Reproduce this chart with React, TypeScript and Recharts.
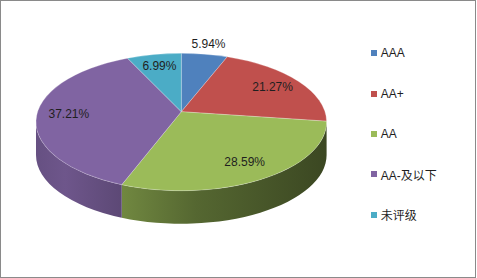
import React from 'react';
import { PieChart, Pie, Legend } from 'recharts';

const ratings = ['AAA', 'AA+', 'AA', 'AA-及以下', '未评级'];
const shares = [5.94, 21.27, 28.59, 37.21, 6.99];
const colors = ['#4F81BD', '#C0504D', '#9BBB59', '#8064A2', '#4BACC6'];

const data = ratings.map((name, i) => ({ name, value: shares[i] }));

const FONT = "'Liberation Sans', Arial, 'Noto Sans CJK SC', sans-serif";
const TILT = 0.473; // ry / rx of the top face
const DEPTH = 33; // height of the side wall
const PERSP = 0.15; // how far the centre point sits back (perspective)
const RAD = Math.PI / 180;

// point on the flat disc (angle, fraction of radius) -> screen, with a perspective pull
const project = (cx: number, cy: number, r: number, deg: number, f = 1) => {
    const u = f * Math.cos(deg * RAD);
    const v = f * Math.sin(deg * RAD);
    const k = 1 + PERSP * v;
    const u2 = (u * Math.sqrt(1 - PERSP * PERSP)) / k;
    const v2 = (v + PERSP) / k;
    return { x: cx + r * u2, y: cy - r * TILT * v2, a: Math.atan2(v2, u2) / RAD };
};

// angle on the ellipse, unwrapped next to the source angle
const screenAngle = (cx: number, cy: number, r: number, deg: number) => {
    let a = project(cx, cy, r, deg).a;
    while (a - deg > 180) a -= 360;
    while (deg - a > 180) a += 360;
    return a;
};

const onEllipse = (cx: number, cy: number, r: number, a: number) => ({
    x: cx + r * Math.cos(a * RAD),
    y: cy - r * TILT * Math.sin(a * RAD),
});

const shade = (hex: string, k: number) => {
    const n = parseInt(hex.slice(1), 16);
    const r = Math.round(((n >> 16) & 255) * k);
    const g = Math.round(((n >> 8) & 255) * k);
    const b = Math.round((n & 255) * k);
    return `rgb(${r},${g},${b})`;
};

const renderSide = (props: any) => {
    const { cx, cy, outerRadius: r, startAngle, endAngle, index } = props;
    const hi = Math.min(screenAngle(cx, cy, r, startAngle), 0);
    const lo = Math.max(screenAngle(cx, cy, r, endAngle), -180);
    if (hi <= lo) return <g key={`side-${index}`} />;
    const p1 = onEllipse(cx, cy, r, hi);
    const p2 = onEllipse(cx, cy, r, lo);
    const ry = r * TILT;
    const d = `M${p1.x},${p1.y} A${r},${ry} 0 0 1 ${p2.x},${p2.y} L${p2.x},${p2.y + DEPTH} A${r},${ry} 0 0 0 ${p1.x},${p1.y + DEPTH} Z`;
    const c = colors[index];
    const id = `wall-${index}`;
    return (
        <g key={`side-${index}`}>
            <defs>
                <linearGradient id={id} gradientUnits="userSpaceOnUse" x1={cx - r} y1={0} x2={cx + r} y2={0}>
                    <stop offset="0" stopColor={shade(c, 0.8)} />
                    <stop offset="0.1" stopColor={shade(c, 0.86)} />
                    <stop offset="0.3" stopColor={shade(c, 0.72)} />
                    <stop offset="0.55" stopColor={shade(c, 0.55)} />
                    <stop offset="1" stopColor={shade(c, 0.38)} />
                </linearGradient>
            </defs>
            <path d={d} fill={`url(#${id})`} />
        </g>
    );
};

const renderTop = (props: any) => {
    const { cx, cy, outerRadius: r, startAngle, endAngle, midAngle, percent, index } = props;
    const apex = project(cx, cy, r, 0, 0);
    const p1 = project(cx, cy, r, startAngle);
    const p2 = project(cx, cy, r, endAngle);
    const span = screenAngle(cx, cy, r, startAngle) - screenAngle(cx, cy, r, endAngle);
    const large = span > 180 ? 1 : 0;
    const d = `M${apex.x},${apex.y} L${p1.x},${p1.y} A${r},${r * TILT} 0 ${large} 1 ${p2.x},${p2.y} Z`;
    // small slices get their label outside the rim
    const lp = project(cx, cy, r, midAngle, percent < 0.065 ? 1.2 : 0.78);
    return (
        <g key={`top-${index}`}>
            <path d={d} fill={colors[index]} stroke="rgba(255,255,255,0.35)" strokeWidth={0.7} />
            <text
                x={lp.x}
                y={lp.y}
                textAnchor="middle"
                dominantBaseline="central"
                fontFamily={FONT}
                fontSize={12}
                fill="#1f1f1f"
            >
                {`${(percent * 100).toFixed(2)}%`}
            </text>
        </g>
    );
};

// keep the legend in data order (recharts sorts it by name otherwise)
const renderLegend = (props: any) => {
    const items = (props.payload || [])
        .filter((item: any) => item.type !== 'none')
        .sort((a: any, b: any) => ratings.indexOf(a.value) - ratings.indexOf(b.value));
    return (
        <div style={{ fontFamily: FONT, fontSize: 12, color: '#1f1f1f' }}>
            {items.map((item: any) => (
                <div key={item.value} style={{ height: 40.3, display: 'flex', alignItems: 'center' }}>
                    <span
                        style={{
                            display: 'inline-block',
                            width: 6,
                            height: 6,
                            background: colors[ratings.indexOf(item.value)],
                            marginRight: 4,
                        }}
                    />
                    <span>{item.value}</span>
                </div>
            ))}
        </div>
    );
};

const App: React.FC = () => {
    return (
        <div
            style={{
                position: 'absolute',
                left: 0,
                top: 0,
                width: 476,
                height: 278,
                border: '1px solid #8a8a8a',
                boxSizing: 'border-box',
                background: '#fff',
            }}
        >
            <PieChart width={474} height={276} margin={{ top: 0, right: 0, bottom: 0, left: 0 }}>
                {/* side walls first, the top faces sit over them */}
                <Pie
                    data={data}
                    dataKey="value"
                    nameKey="name"
                    cx={180.3}
                    cy={121}
                    outerRadius={145.3}
                    startAngle={90}
                    endAngle={-270}
                    fill="none"
                    stroke="none"
                    legendType="none"
                    label={renderSide}
                    labelLine={false}
                    isAnimationActive={false}
                />
                <Pie
                    data={data}
                    dataKey="value"
                    nameKey="name"
                    cx={180.3}
                    cy={121}
                    outerRadius={145.3}
                    startAngle={90}
                    endAngle={-270}
                    fill="none"
                    stroke="none"
                    legendType="square"
                    label={renderTop}
                    labelLine={false}
                    isAnimationActive={false}
                />
                <Legend
                    layout="vertical"
                    align="right"
                    verticalAlign="top"
                    content={renderLegend}
                    wrapperStyle={{ left: 369.7, top: 32.2, right: 'auto', width: 100 }}
                />
            </PieChart>
        </div>
    );
};

export default App;
